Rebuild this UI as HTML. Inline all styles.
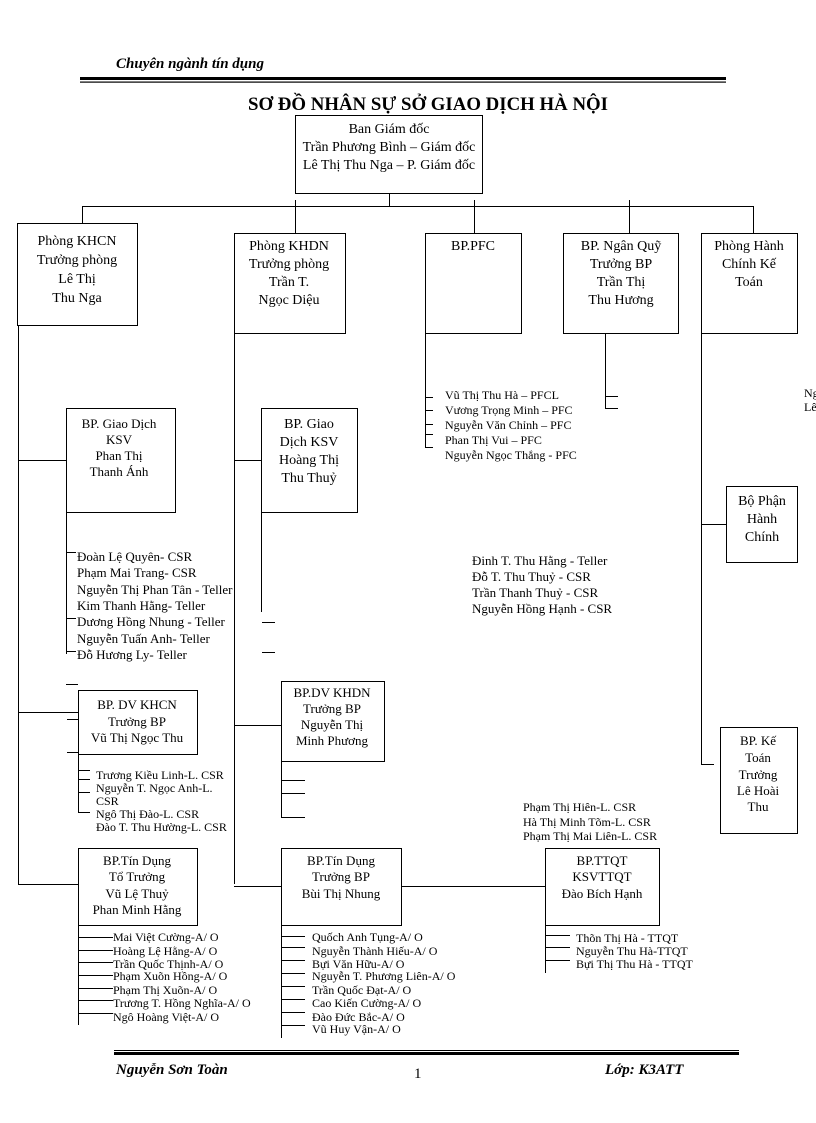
<!DOCTYPE html>
<html><head><meta charset="utf-8"><style>
html,body{margin:0;padding:0;background:#fff;}
svg{display:block}
text{font-family:"Liberation Serif",serif;fill:#000}
.b{font-size:14px}
.s{font-size:12px}
.m{font-size:13px}
</style></head><body>
<svg width="816" height="1123" viewBox="0 0 816 1123" xmlns="http://www.w3.org/2000/svg">
<g stroke="#000" stroke-width="1" fill="none">
<rect x="80" y="77" width="646" height="3" fill="#000" stroke="none"/>
<rect x="80" y="81.5" width="646" height="1.2" fill="#000" stroke="none"/>
<rect x="114" y="1050" width="625" height="1" fill="#000" stroke="none"/>
<rect x="114" y="1052" width="625" height="3" fill="#000" stroke="none"/>
<rect x="295.5" y="115.5" width="187" height="78"/>
<rect x="17.5" y="223.5" width="120" height="102"/>
<rect x="234.5" y="233.5" width="111" height="100"/>
<rect x="425.5" y="233.5" width="96" height="100"/>
<rect x="563.5" y="233.5" width="115" height="100"/>
<rect x="701.5" y="233.5" width="96" height="100"/>
<rect x="66.5" y="408.5" width="109" height="104"/>
<rect x="261.5" y="408.5" width="96" height="104"/>
<rect x="726.5" y="486.5" width="71" height="76"/>
<rect x="78.5" y="690.5" width="119" height="64"/>
<rect x="281.5" y="681.5" width="103" height="80"/>
<rect x="720.5" y="727.5" width="77" height="106"/>
<rect x="78.5" y="848.5" width="119" height="77"/>
<rect x="281.5" y="848.5" width="120" height="77"/>
<rect x="545.5" y="848.5" width="114" height="77"/>
<path d="M389.5 193V206 M82 206.5H754 M82.5 206V223 M295.5 200V233 M474.5 200V233 M629.5 200V233 M753.5 206V233"/>
<path d="M18.5 325V884 M18 460.5H66 M18 712.5H78 M18 884.5H78"/>
<path d="M66.5 512V654 M66 552.5H76 M66 618.5H76 M66 651.5H76 M66 684.5H78"/>
<path d="M78.5 754V812 M78 770.5H90 M78 779.5H90 M78 792.5H90 M78 812.5H90 M67 719.5H78 M67 752.5H78"/>
<path d="M78.5 925V1025 M78 937.5H113 M78 950.5H113 M78 962.5H113 M78 975.5H113 M78 988.5H113 M78 1000.5H113 M78 1013.5H113"/>
<path d="M234.5 333V884 M234 460.5H261 M234 725.5H281 M234 886.5H281 M401 886.5H545"/>
<path d="M261.5 512V612 M262 622.5H275 M262 652.5H275"/>
<path d="M281.5 761V818 M281 780.5H305 M281 793.5H305 M281 817.5H305"/>
<path d="M281.5 925V1038 M281 936.5H305 M281 947.5H305 M281 960.5H305 M281 973.5H305 M281 986.5H305 M281 999.5H305 M281 1012.5H305 M281 1025.5H305"/>
<path d="M425.5 333V447 M425 397.5H433 M425 410.5H433 M425 424.5H433 M425 434.5H433 M425 447.5H433"/>
<path d="M605.5 333V408 M605 396.5H618 M605 408.5H618"/>
<path d="M701.5 333V765 M701 524.5H726 M701 764.5H714"/>
<path d="M545.5 925V973 M545 935.5H570 M545 947.5H570 M545 960.5H570"/>
</g>
<text x="116" y="68" style="font-size:15px;font-style:italic;font-weight:bold">Chuyên ngành tín dụng</text>
<text x="428" y="110" text-anchor="middle" textLength="360" lengthAdjust="spacingAndGlyphs" style="font-size:19px;font-weight:bold">SƠ ĐỒ NHÂN SỰ SỞ GIAO DỊCH HÀ NỘI</text>
<g class="b" text-anchor="middle">
<text x="389" y="133">Ban Giám đốc</text>
<text x="389" y="151">Trần Phương Bình – Giám đốc</text>
<text x="389" y="169">Lê Thị Thu Nga – P. Giám đốc</text>
<text x="77" y="245">Phòng KHCN</text><text x="77" y="264">Trưởng phòng</text><text x="77" y="283">Lê Thị</text><text x="77" y="302">Thu Nga</text>
<text x="289" y="250">Phòng KHDN</text><text x="289" y="268">Trưởng phòng</text><text x="289" y="286">Trần T.</text><text x="289" y="304">Ngọc Diệu</text>
<text x="473" y="250">BP.PFC</text>
<text x="621" y="250">BP. Ngân Quỹ</text><text x="621" y="268">Trưởng BP</text><text x="621" y="286">Trần Thị</text><text x="621" y="304">Thu Hương</text>
<text x="749" y="250">Phòng Hành</text><text x="749" y="268">Chính  Kế</text><text x="749" y="286">Toán</text>
<text x="119" y="428" class="m">BP. Giao Dịch</text><text x="119" y="444" class="m">KSV</text><text x="119" y="460" class="m">Phan Thị</text><text x="119" y="476" class="m">Thanh Ánh</text>
<text x="309" y="428">BP. Giao</text><text x="309" y="446">Dịch KSV</text><text x="309" y="464">Hoàng Thị</text><text x="309" y="482">Thu Thuỷ</text>
<text x="762" y="505">Bộ Phận</text><text x="762" y="523">Hành</text><text x="762" y="541">Chính</text>
<text x="137" y="709" class="m">BP. DV KHCN</text><text x="137" y="726" class="m">Trưởng BP</text><text x="137" y="742" class="m">Vũ Thị Ngọc Thu</text>
<text x="332" y="697" class="m">BP.DV  KHDN</text><text x="332" y="713" class="m">Trưởng BP</text><text x="332" y="729" class="m">Nguyễn Thị</text><text x="332" y="745" class="m">Minh Phương</text>
<text x="758" y="745" class="m">BP. Kế</text><text x="758" y="762" class="m">Toán</text><text x="758" y="779" class="m">Trưởng</text><text x="758" y="795" class="m">Lê Hoài</text><text x="758" y="811" class="m">Thu</text>
<text x="137" y="865" class="m">BP.Tín Dụng</text><text x="137" y="881" class="m">Tổ Trưởng</text><text x="137" y="898" class="m">Vũ Lệ Thuỷ</text><text x="137" y="914" class="m">Phan Minh Hằng</text>
<text x="341" y="865" class="m">BP.Tín Dụng</text><text x="341" y="881" class="m">Trưởng BP</text><text x="341" y="898" class="m">Bùi Thị Nhung</text>
<text x="602" y="865" class="m">BP.TTQT</text><text x="602" y="881" class="m">KSVTTQT</text><text x="602" y="898" class="m">Đào Bích Hạnh</text>
</g>
<g class="m">
<text x="77" y="561">Đoàn Lệ Quyên- CSR</text>
<text x="77" y="577">Phạm Mai Trang- CSR</text>
<text x="77" y="594">Nguyễn Thị Phan Tân - Teller</text>
<text x="77" y="610">Kim Thanh Hằng- Teller</text>
<text x="77" y="626">Dương Hồng Nhung - Teller</text>
<text x="77" y="643">Nguyễn Tuấn Anh- Teller</text>
<text x="77" y="659">Đỗ Hương Ly- Teller</text>
</g>
<g class="s">
<text x="96" y="779">Trương Kiều Linh-L. CSR</text>
<text x="96" y="792">Nguyễn  T.  Ngọc  Anh-L.</text>
<text x="96" y="805">CSR</text>
<text x="96" y="818">Ngô Thị Đào-L. CSR</text>
<text x="96" y="831">Đào T. Thu Hường-L. CSR</text>
<text x="113" y="941">Mai Việt Cường-A/ O</text>
<text x="113" y="955">Hoàng Lệ Hằng-A/ O</text>
<text x="113" y="968">Trần Quốc Thịnh-A/ O</text>
<text x="113" y="980">Phạm Xuõn Hồng-A/ O</text>
<text x="113" y="994">Phạm Thị Xuõn-A/ O</text>
<text x="113" y="1007">Trương T. Hồng Nghĩa-A/ O</text>
<text x="113" y="1021">Ngô Hoàng Việt-A/ O</text>
<text x="312" y="941">Quốch Anh Tụng-A/ O</text>
<text x="312" y="955">Nguyễn Thành Hiếu-A/ O</text>
<text x="312" y="968">Bựi Văn Hữu-A/ O</text>
<text x="312" y="980">Nguyễn T. Phương Liên-A/ O</text>
<text x="312" y="994">Trần Quốc Đạt-A/ O</text>
<text x="312" y="1007">Cao Kiến Cường-A/ O</text>
<text x="312" y="1021">Đào Đức Bắc-A/ O</text>
<text x="312" y="1033">Vũ Huy Vận-A/ O</text>
<text x="445" y="399">Vũ Thị Thu Hà – PFCL</text>
<text x="445" y="414">Vương Trọng Minh – PFC</text>
<text x="445" y="429">Nguyễn Văn Chỉnh – PFC</text>
<text x="445" y="444">Phan Thị Vui – PFC</text>
<text x="445" y="459">Nguyễn Ngọc Thắng - PFC</text>
<text x="523" y="811">Phạm Thị Hiên-L. CSR</text>
<text x="523" y="826">Hà Thị Minh Tõm-L. CSR</text>
<text x="523" y="840">Phạm Thị Mai Liên-L. CSR</text>
<text x="576" y="942">Thõn Thị Hà - TTQT</text>
<text x="576" y="955">Nguyễn Thu Hà-TTQT</text>
<text x="576" y="968">Bựi Thị Thu Hà - TTQT</text>
<text x="804" y="397">Ng</text>
<text x="804" y="411">Lê</text>
</g>
<g class="m">
<text x="472" y="565">Đinh T. Thu Hằng - Teller</text>
<text x="472" y="581">Đỗ T. Thu Thuỷ - CSR</text>
<text x="472" y="597">Trần Thanh Thuỷ - CSR</text>
<text x="472" y="613">Nguyễn Hồng Hạnh - CSR</text>
</g>
<text x="116" y="1074" style="font-size:15px;font-style:italic;font-weight:bold">Nguyễn Sơn Toàn</text>
<text x="414" y="1078" style="font-size:15px">1</text>
<text x="605" y="1074" style="font-size:15px;font-style:italic;font-weight:bold">Lớp: K3ATT</text>
</svg>
</body></html>
